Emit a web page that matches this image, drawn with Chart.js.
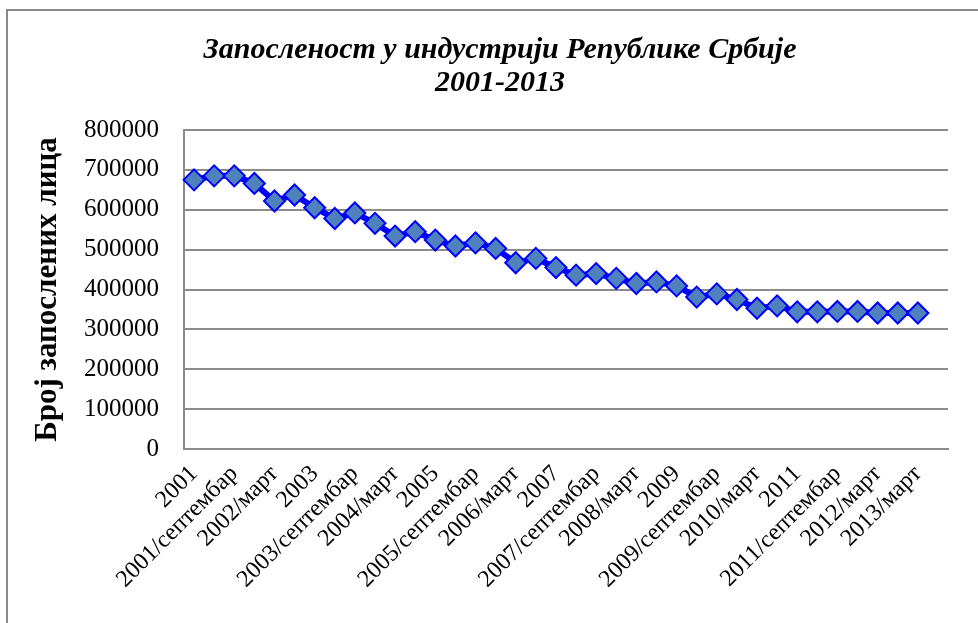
<!DOCTYPE html>
<html>
<head>
<meta charset="utf-8">
<script src="https://cdn.jsdelivr.net/npm/chart.js@4/dist/chart.umd.min.js"></script>
<style>
  html, body { margin: 0; padding: 0; background: #fff; }
  #wrap { width: 978px; height: 623px; position: relative; }
</style>
</head>
<body>
<div id="wrap"><canvas id="emp-chart"></canvas></div>
<script>
// categories (every other one is labelled on the axis)
const periods = [
  "2001", "", "2001/септембар", "", "2002/март", "",
  "2003", "", "2003/септембар", "", "2004/март", "",
  "2005", "", "2005/септембар", "", "2006/март", "",
  "2007", "", "2007/септембар", "", "2008/март", "",
  "2009", "", "2009/септембар", "", "2010/март", "",
  "2011", "", "2011/септембар", "", "2012/март", "",
  "2013/март", ""
];

// број запослених лица
const employed = [
  675000, 685000, 685000, 666000, 622000, 637000,
  605000, 578000, 592000, 566000, 534000, 545000,
  524000, 509000, 517000, 503000, 467000, 478000,
  455000, 436000, 440000, 428000, 415000, 419000,
  409000, 381000, 389000, 375000, 353000, 359000,
  344000, 344000, 345000, 345000, 341000, 341000,
  341000, null
];

const yTicks = [0, 100000, 200000, 300000, 400000, 500000, 600000, 700000, 800000];

const titleLines = ["Запосленост у индустрији Републике Србије", "2001-2013"];
const yAxisTitle = "Број запослених лица";

const serif = '"Liberation Serif", "Times New Roman", serif';

// frame + title drawn around the chart
const framePlugin = {
  id: 'frame',
  beforeDraw(chart) {
    const ctx = chart.ctx;
    ctx.save();
    ctx.fillStyle = '#ffffff';
    ctx.fillRect(0, 0, chart.width, chart.height);
    ctx.strokeStyle = '#898989';
    ctx.lineWidth = 2;
    ctx.strokeRect(7, 10, 3000, 3000);
    ctx.restore();
  },
  afterDraw(chart) {
    const ctx = chart.ctx;
    ctx.save();
    ctx.fillStyle = '#000';
    ctx.font = 'italic bold 30px ' + serif;
    ctx.textAlign = 'center';
    ctx.textBaseline = 'middle';
    ctx.fillText(titleLines[0], 500, 50);
    ctx.fillText(titleLines[1], 500, 83);
    ctx.restore();
  }
};

const config = {
  type: 'line',
  data: {
    labels: periods,
    datasets: [{
      label: yAxisTitle,
      data: employed,
      borderColor: '#0000ff',
      borderWidth: 6,
      backgroundColor: '#4f81bd',
      pointStyle: 'rectRot',
      pointRadius: 10.5,
      pointHoverRadius: 10.5,
      pointBorderColor: '#0000ff',
      pointBorderWidth: 2,
      pointBackgroundColor: '#4f81bd',
      tension: 0
    }]
  },
  options: {
    responsive: false,
    animation: false,
    layout: { padding: { top: 130, right: 30, left: 0, bottom: 0 } },
    plugins: {
      legend: { display: false },
      title: { display: false },
      tooltip: { enabled: false }
    },
    scales: {
      x: {
        type: 'category',
        offset: true,
        grid: { display: false, drawTicks: false },
        border: { display: true, color: '#8c8c8c', width: 2 },
        ticks: {
          autoSkip: false,
          maxRotation: 45,
          minRotation: 45,
          padding: 11,
          color: '#000',
          font: { family: serif, size: 24 }
        },
        afterFit(scale) { scale.height = 623 - 449; }
      },
      y: {
        min: 0,
        max: 800000,
        afterBuildTicks(scale) { scale.ticks = yTicks.map(v => ({ value: v })); },
        grid: { color: '#8c8c8c', lineWidth: 2, drawTicks: false },
        border: { display: true, color: '#8c8c8c', width: 2 },
        ticks: {
          padding: 25,
          color: '#000',
          font: { family: serif, size: 25 },
          callback: v => String(v)
        },
        title: {
          display: true,
          text: yAxisTitle,
          color: '#000',
          font: { family: serif, size: 31, weight: 'bold' },
          padding: { top: 29, bottom: 0 }
        },
        afterFit(scale) { scale.width = 184; }
      }
    }
  },
  plugins: [framePlugin]
};

document.addEventListener("DOMContentLoaded", e => {
  const canvas = document.getElementById('emp-chart');
  canvas.width = 978;
  canvas.height = 623;
  new Chart(canvas, config);
});
</script>
</body>
</html>
